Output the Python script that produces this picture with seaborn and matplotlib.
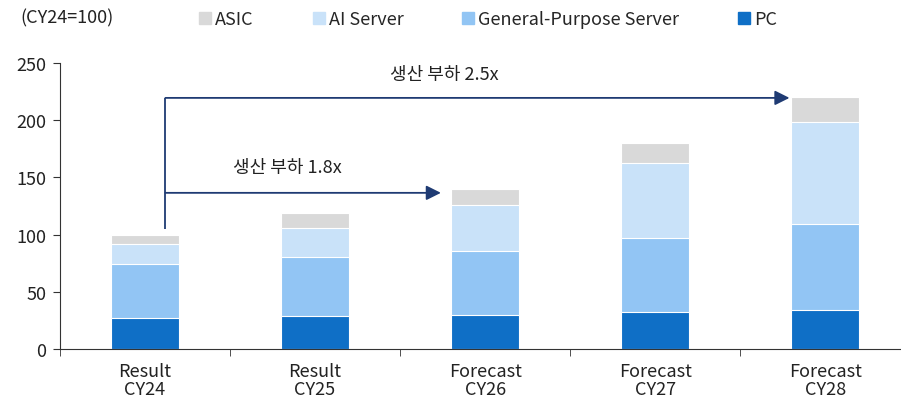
import numpy as np
import pandas as pd
import seaborn as sns
import matplotlib.pyplot as plt
from matplotlib.lines import Line2D

# values (CY24 = 100)
categories = ['Result\nCY24', 'Result\nCY25', 'Forecast\nCY26', 'Forecast\nCY27', 'Forecast\nCY28']
pc = [27, 29, 30, 32, 34]
general_server = [47, 51, 56, 65, 75]
ai_server = [18, 26, 40, 66, 89]
asic = [8, 13, 14, 17, 22]

series_names = ['ASIC', 'AI Server', 'General-Purpose Server', 'PC']
colors = {'ASIC': '#D9D9D9', 'AI Server': '#C9E2F9',
          'General-Purpose Server': '#92C5F4', 'PC': '#0F6FC6'}

sns.set_style('white')
plt.rcParams['font.family'] = ['Noto Sans CJK KR', 'DejaVu Sans']
FS = 13

df = pd.DataFrame({'cat': categories, 'PC': pc, 'General-Purpose Server': general_server,
                   'AI Server': ai_server, 'ASIC': asic})
# cumulative heights, drawn from the tallest layer down
df['c_pc'] = df['PC']
df['c_gp'] = df['c_pc'] + df['General-Purpose Server']
df['c_ai'] = df['c_gp'] + df['AI Server']
df['c_asic'] = df['c_ai'] + df['ASIC']

fig = plt.figure(figsize=(9.01, 4.06), dpi=100)
ax = fig.add_axes([60 / 901, 56 / 406, 840 / 901, 286 / 406])

for col, name in [('c_asic', 'ASIC'), ('c_ai', 'AI Server'),
                  ('c_gp', 'General-Purpose Server'), ('c_pc', 'PC')]:
    sns.barplot(data=df, x='cat', y=col, color=colors[name], width=0.4,
                edgecolor='white', linewidth=0.8, saturation=1, ax=ax)

ax.set_yticks(np.arange(0, 251, 50))
ax.set_xticks(np.arange(-0.5, 4.4, 1.0), minor=True)
ax.set_xlim(-0.5, 4.44)
ax.set_ylim(0, 250)
ax.set_xlabel('')
ax.set_ylabel('')
sns.despine(ax=ax)
ax.spines['left'].set_color('#333333')
ax.spines['bottom'].set_color('#333333')
ax.tick_params(axis='y', which='major', left=True, length=5, color='#333333',
               labelsize=FS, pad=5, labelcolor='#222222')
ax.tick_params(axis='x', which='major', bottom=False, labelsize=FS, pad=6, labelcolor='#222222')
ax.tick_params(axis='x', which='minor', bottom=True, length=5, color='#333333')
ax.set_xticklabels(categories, linespacing=1.0)

# arrows showing production load
arrow_col = '#1F3B73'
ax.plot([0.12, 0.12], [105, 219.5], color=arrow_col, lw=1.3, solid_capstyle='butt')
ax.annotate('', xy=(3.79, 219.5), xytext=(0.12, 219.5),
            arrowprops=dict(arrowstyle='-|>', color=arrow_col, lw=1.3,
                            mutation_scale=22, shrinkA=0, shrinkB=0))
ax.annotate('', xy=(1.74, 136.5), xytext=(0.12, 136.5),
            arrowprops=dict(arrowstyle='-|>', color=arrow_col, lw=1.3,
                            mutation_scale=22, shrinkA=0, shrinkB=0))
ax.text(1.76, 240, '생산 부하 2.5x', fontsize=FS, ha='center', va='center', color='#222222')
ax.text(0.84, 159, '생산 부하 1.8x', fontsize=FS, ha='center', va='center', color='#222222')

fig.text(20 / 901, 1 - 18 / 406, '(CY24=100)', fontsize=FS, ha='left', va='center', color='#222222')

handles = [Line2D([], [], marker='s', linestyle='none', markersize=8,
                  markerfacecolor=colors[n], markeredgecolor=colors[n]) for n in series_names]
fig.legend(handles, series_names, loc='center left', bbox_to_anchor=(196 / 901, 1 - 20 / 406),
           ncol=4, frameon=False, fontsize=FS, handletextpad=0.05, columnspacing=3.1,
           handlelength=1.0, borderaxespad=0, borderpad=0)

fig.savefig('out.png', dpi=100)
